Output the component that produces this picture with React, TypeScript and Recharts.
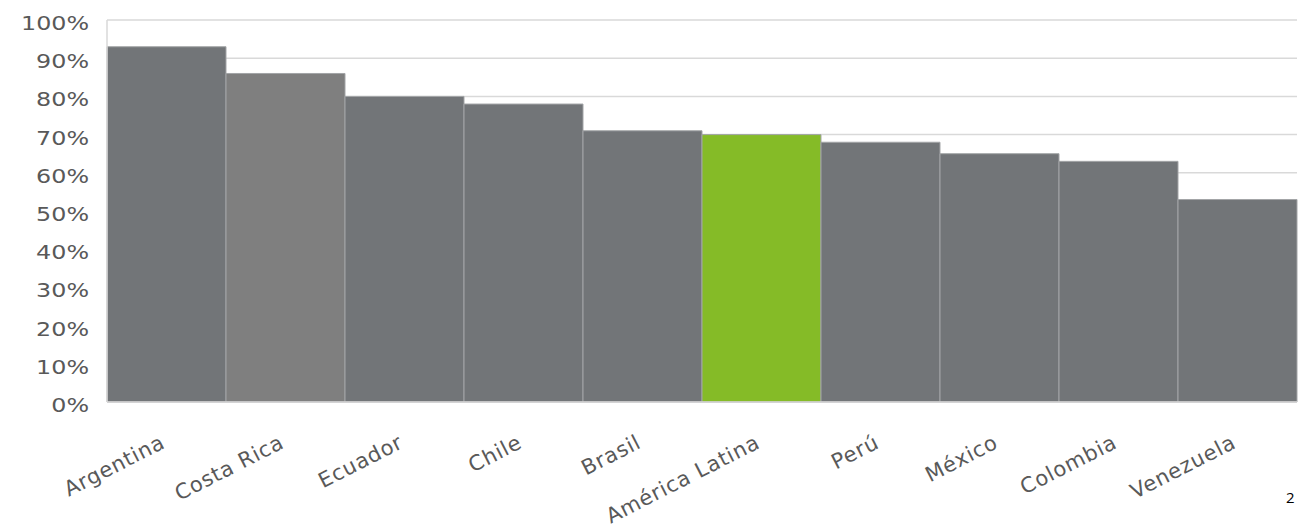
import { BarChart, Bar, XAxis, YAxis, CartesianGrid, Cell } from "recharts";

const COUNTRIES = [
  "Argentina", "Costa Rica", "Ecuador", "Chile", "Brasil",
  "América Latina", "Perú", "México", "Colombia", "Venezuela",
];
const SHARE = [93, 86, 80, 78, 71, 70, 68, 65, 63, 53];
const BAR_COLORS = [
  "#727578", "#7f7f7f", "#727578", "#727578", "#727578",
  "#85bb27", "#727578", "#727578", "#727578", "#727578",
];
const Y_TICKS = [0, 10, 20, 30, 40, 50, 60, 70, 80, 90, 100];

const data = COUNTRIES.map((name, i) => ({ name, value: SHARE[i] }));

const FONT = "'DejaVu Sans', Verdana, sans-serif";

// y labels look a bit stretched sideways in the original, so scale them
function YTick(props: any) {
  const { x, y, payload } = props;
  return (
    <g transform={`translate(${x + 1},${y + 10}) scale(1.19,1)`}>
      <text x={0} y={0} textAnchor="end" fontFamily={FONT} fontSize={20} fill="#595959">
        {payload.value}%
      </text>
    </g>
  );
}

function XTick(props: any) {
  const { x, y, payload } = props;
  return (
    <g transform={`translate(${x},${y + 43}) rotate(-27)`}>
      <text x={0} y={0} textAnchor="end" fontFamily={FONT} fontSize={21}
        letterSpacing={0.8} fill="#595959">
        {payload.value}
      </text>
    </g>
  );
}

export default function App() {
  return (
    <div style={{ position: "absolute", left: 0, top: 0, width: 1307, height: 532, background: "#fff" }}>
      <BarChart
        width={1307}
        height={532}
        data={data}
        barCategoryGap={0}
        margin={{ top: 20, right: 10, left: 0, bottom: 0 }}
      >
        <CartesianGrid vertical={false} stroke="#d9d9d9" strokeWidth={1.5} />
        <XAxis
          dataKey="name"
          interval={0}
          tick={<XTick />}
          tickLine={false}
          tickSize={0}
          height={130}
          axisLine={{ stroke: "#d9d9d9", strokeWidth: 1.5 }}
        />
        <YAxis
          domain={[0, 100]}
          ticks={Y_TICKS}
          width={107}
          tick={<YTick />}
          tickLine={false}
          tickSize={0}
          tickMargin={19}
          axisLine={{ stroke: "#d9d9d9", strokeWidth: 1.5 }}
        />
        <Bar dataKey="value" isAnimationActive={false} stroke="#a3a5a7" strokeWidth={1}>
          {data.map((d, i) => (
            <Cell key={d.name} fill={BAR_COLORS[i]} />
          ))}
        </Bar>
      </BarChart>
      <div style={{ position: "absolute", left: 1286, top: 487, fontFamily: "'Open Sans', sans-serif", fontSize: 15, color: "#000" }}>
        2
      </div>
    </div>
  );
}
